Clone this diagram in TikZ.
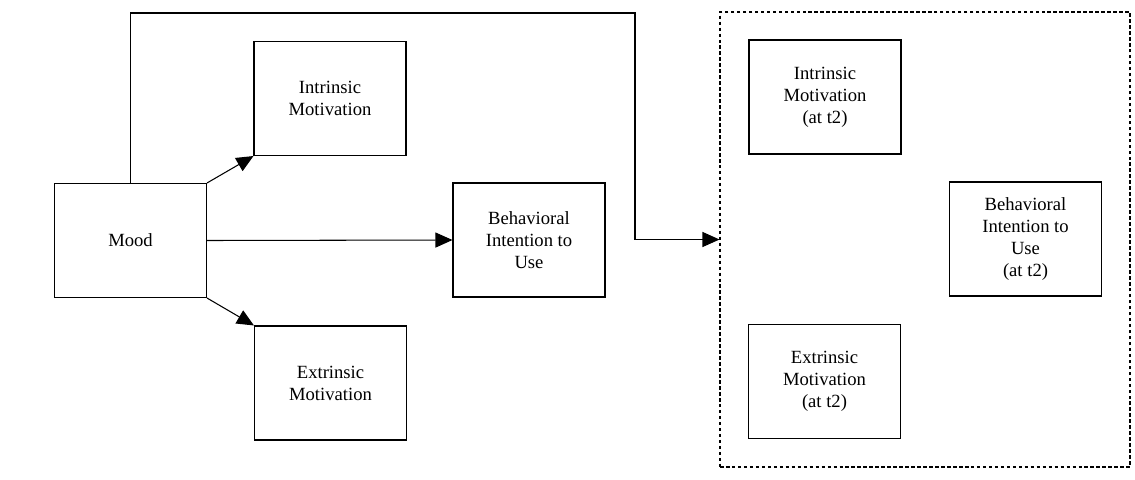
\documentclass[tikz,border=0pt]{standalone}
\usepackage{fontspec}
\setmainfont{Liberation Serif}
\usetikzlibrary{arrows.meta}

\tikzset{%
  every node/.style={
    inner sep=1pt,
    font=\fontsize{10.6}{12.6}\selectfont,
    align=center
  },
  box/.style={
    draw, line width=0.6pt,
    minimum width=3.04cm, minimum height=2.28cm
  },
  wave/.style={
    draw, line width=0.6pt, dash pattern=on 2pt off 1.4pt,
    minimum width=8.2cm, minimum height=9.1cm
  },
  link/.style={
    line width=0.6pt,
    -{Triangle[length=0.34cm,width=0.3cm]}
  }
}

\begin{document}
\begin{tikzpicture}
      \useasboundingbox (0,0) rectangle (22.7,-9.58);
      \node[box] at (2.61,-4.81) (mood) {Mood};
      \node[box] at (6.60,-1.97) (intr) {Intrinsic\\Motivation};
      \node[box] at (10.58,-4.80) (bi) {Behavioral\\Intention to\\Use};
      \node[box] at (6.61,-7.66) (extr) {Extrinsic\\Motivation};
      \node[wave] at (18.50,-4.79) (later) {};
      \node[box] at (16.50,-1.94) (intr2) {Intrinsic\\Motivation\\(at t2)};
      \node[box] at (20.51,-4.78) (bi2) {Behavioral\\Intention to\\Use\\(at t2)};
      \node[box] at (16.49,-7.63) (extr2) {Extrinsic\\Motivation\\(at t2)};
      \coordinate (turn) at (12.70,-0.26);
      \draw[link] (mood.north east) -- (intr.south west);
      \draw[link] (mood.east) -- (bi.west);
      \draw[link] (mood.south east) -- (extr.north west);
      \draw[link] (mood.north) |- (turn) |- (later.west);
    \end{tikzpicture}
\end{document}
